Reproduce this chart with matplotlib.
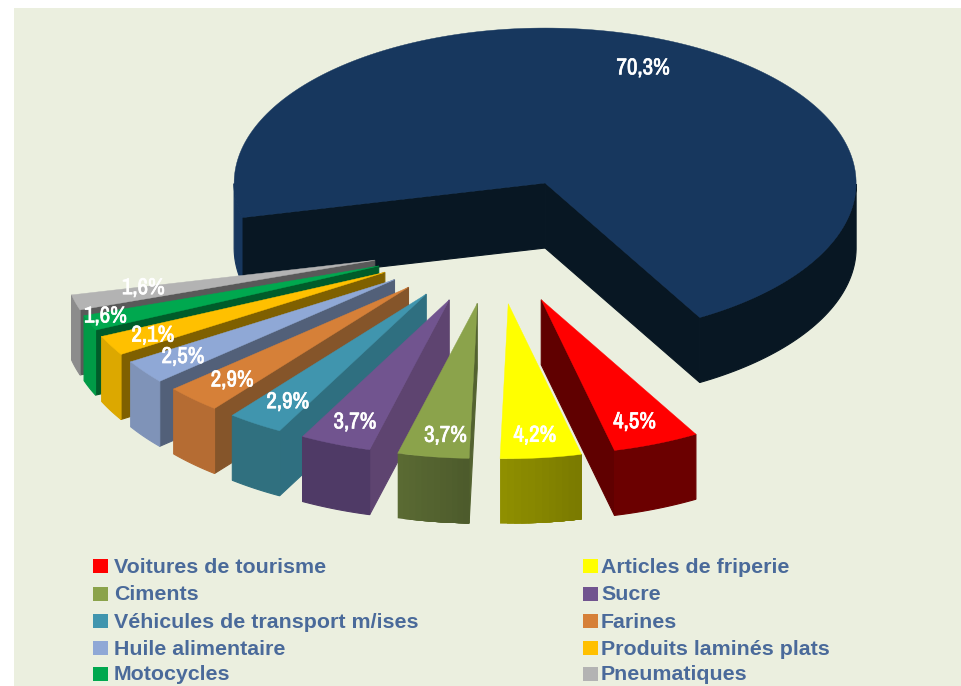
import numpy as np
import matplotlib
matplotlib.use('Agg')
import matplotlib.pyplot as plt
import matplotlib.patheffects as pe
from matplotlib.patches import Polygon, Rectangle

# data
categories = ['Autres', 'Voitures de tourisme', 'Articles de friperie', 'Ciments', 'Sucre',
              'Véhicules de transport m/ises', 'Farines', 'Huile alimentaire',
              'Produits laminés plats', 'Motocycles', 'Pneumatiques']
shares = [70.3, 4.5, 4.2, 3.7, 3.7, 2.9, 2.9, 2.5, 2.1, 1.6, 1.6]
share_labels = ['70,3%', '4,5%', '4,2%', '3,7%', '3,7%', '2,9%', '2,9%', '2,5%', '2,1%', '1,6%', '1,6%']
top_colors = ['#17375e', '#ff0000', '#ffff00', '#8ba34b', '#71548f', '#4095ae',
              '#d68038', '#8fa8d6', '#ffc000', '#00a84f', '#b3b3b3']
outer_colors = ['#081723', '#6b0000', '#8f8f00', '#5a6a33', '#4f3a66', '#30707f',
                '#b56c33', '#7f93b8', '#dca800', '#009a46', '#8c8c8c']
radial_colors = ['#081723', '#600000', '#858500', '#536230', '#5e4470', '#2f6f80',
                 '#85552a', '#526079', '#7f6000', '#005c2a', '#595959']

# geometry in pixels
cx, cy = 495, 244
rx, ry = 311, 155
depth = 65
explode_x, explode_y = 125, 60
big_lift = 6
start_angle = 192.9
bg = '#ebefdf'

# label nudges where the original moved them
label_dx = [-3, 0, 0, 4, -2, 0, -2, -9, -10, -39, 11]
label_dy = [6, 0, 1, 2, 0, -2, -2, -1, 1, 2, -8]


def ell(c, a):
    a = np.radians(a)
    return np.column_stack([c[0] + rx * np.cos(a), c[1] - ry * np.sin(a)])


def extrude(pts):
    return np.vstack([pts, (pts + [0, depth])[::-1]])


def shade(col, f):
    return tuple(np.array(matplotlib.colors.to_rgb(col)) * f)


fig = plt.figure(figsize=(9.62, 6.86), dpi=100, facecolor='white')
ax = fig.add_axes([0, 0, 1, 1])
ax.set_xlim(0, 962)
ax.set_ylim(686, 0)
ax.axis('off')
ax.add_patch(Rectangle((14, 8), 948, 678, color=bg, lw=0))

sweeps = np.array(shares) / sum(shares) * 360
hi = start_angle - np.concatenate([[0], np.cumsum(sweeps)[:-1]])
lo = hi - sweeps
mid = (hi + lo) / 2


def slice_center(i):
    m = np.radians(mid[i])
    return (cx + explode_x * np.cos(m), cy - explode_y * np.sin(m) - (big_lift if i == 0 else 0))


# back to front: big slice, then from the last small slice to the first
for i in [0] + list(range(len(shares) - 1, 0, -1)):
    c = slice_center(i)
    # radial walls facing the viewer
    for a, show in [(lo[i], np.cos(np.radians(lo[i])) > 0), (hi[i], np.cos(np.radians(hi[i])) < 0)]:
        if show:
            edge = np.vstack([[c], ell(c, np.array([a]))])
            ax.add_patch(Polygon(extrude(edge), color=radial_colors[i], lw=0.8))
    # outer wall, lower half of the ellipse only
    arc = np.linspace(lo[i], hi[i], 200)
    idx = np.where(np.sin(np.radians(arc)) <= 0)[0]
    groups = np.split(idx, np.where(np.diff(idx) > 1)[0] + 1)
    for g in groups:
        if len(g) < 2:
            continue
        if i == 0:
            col = top_colors[0] if np.cos(np.radians(arc[g[0]])) < 0 else outer_colors[0]
            ax.add_patch(Polygon(extrude(ell(c, arc[g])), color=col, lw=0.8))
        elif i in (2, 3):
            # soft left to right shading on the two front slices, each step painted over the last
            for k, s in enumerate(np.array_split(g, 12)):
                seg = arc[s[0]:g[-1] + 1]
                ax.add_patch(Polygon(extrude(ell(c, seg)), color=shade(outer_colors[i], 1 - 0.013 * k), lw=0))
        else:
            ax.add_patch(Polygon(extrude(ell(c, arc[g])), color=outer_colors[i], lw=0.8))
    # top face
    ax.add_patch(Polygon(np.vstack([[c], ell(c, arc)]), color=top_colors[i], lw=0.3))

# value labels
lab_font = ['Archivo Narrow', 'Liberation Sans Narrow', 'Liberation Sans']
for i, lab in enumerate(share_labels):
    m = np.radians(mid[i])
    c = slice_center(i)
    x = c[0] + 0.81 * rx * np.cos(m) + label_dx[i]
    y = c[1] - 0.85 * ry * np.sin(m) + label_dy[i]
    t = ax.text(x, y, lab, color='white', fontsize=16.5, fontweight='bold', family=lab_font,
                ha='center', va='center')
    t.set_path_effects([pe.withStroke(linewidth=0.5, foreground='white')])

# legend, two columns
leg_y = [566, 593.5, 620.5, 648, 673.5]
for n, i in enumerate(range(1, len(categories))):
    row = n // 2
    x0 = 93 if n % 2 == 0 else 583
    ax.add_patch(Rectangle((x0, leg_y[row] - 7), 15, 14, color=top_colors[i], lw=0))
    ax.text(x0 + (21 if n % 2 == 0 else 18), leg_y[row] + 7, categories[i], color='#4a6a9a', fontsize=15.4,
            fontweight='bold', family='Liberation Sans', ha='left', va='baseline')

fig.savefig('out.png', dpi=100)
